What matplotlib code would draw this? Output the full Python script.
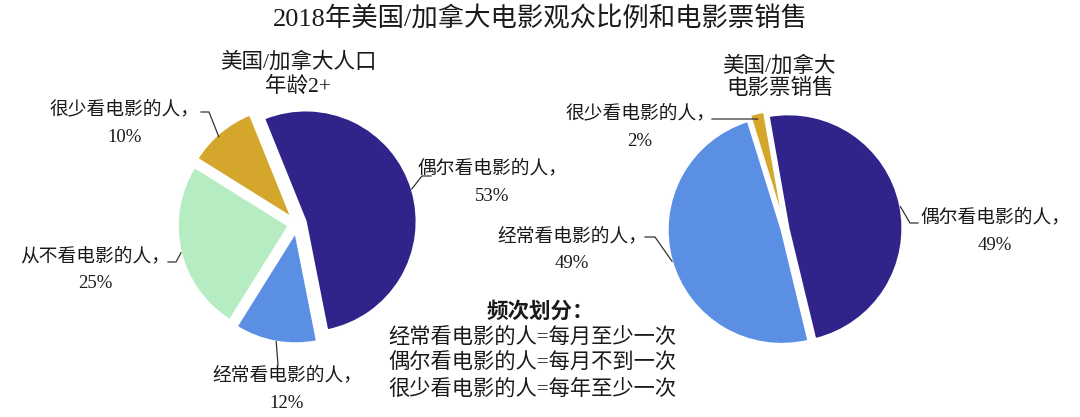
import numpy as np
import matplotlib
matplotlib.use("Agg")
import matplotlib.pyplot as plt

plt.rcParams['font.family'] = ['Liberation Serif', 'Noto Sans CJK SC', 'DejaVu Sans']

title = "2018年美国/加拿大电影观众比例和电影票销售"

# Left pie: population
pop_labels = ["偶尔看电影的人", "经常看电影的人", "从不看电影的人", "很少看电影的人"]
pop_values = [53, 12, 25, 10]
pop_colors = ["#30248a", "#5b8fe3", "#b6ecc2", "#d4a62b"]
pop_title = ["美国/加拿大人口", "年龄2+"]

# Right pie: ticket sales
sales_labels = ["偶尔看电影的人", "经常看电影的人", "很少看电影的人"]
sales_values = [49, 49, 2]
sales_colors = ["#30248a", "#5b8fe3", "#d4a62b"]
sales_title = ["美国/加拿大", "电影票销售"]

note_title = "频次划分："
note_lines = ["经常看电影的人=每月至少一次",
              "偶尔看电影的人=每月不到一次",
              "很少看电影的人=每年至少一次"]

W, H = 1080, 417
fig = plt.figure(figsize=(W / 100, H / 100), dpi=100)
ax = fig.add_axes([0, 0, 1, 1])

def Y(y):
    return H - y

txt_color = "#1a1a1a"
fs_lab = 13.5

def draw_pie(values, colors, cx, cy, R, start, explode_px):
    wedges, _ = ax.pie(values, colors=colors, startangle=start, counterclock=False,
                       center=(cx, Y(cy)), radius=R, explode=explode_px,
                       wedgeprops=dict(linewidth=1.5, edgecolor='white'), frame=True)
    return wedges

def edge_point(w, ang, frac=1.0):
    cx, cy = w.center
    r = w.r * frac
    a = np.deg2rad(ang)
    return cx + r * np.cos(a), cy + r * np.sin(a)

def leader(pts_img, end):
    xs = [p[0] for p in pts_img] + [end[0]]
    ys = [Y(p[1]) for p in pts_img] + [end[1]]
    ax.plot(xs, ys, color="#333333", lw=0.9)

# left pie
lw = draw_pie(pop_values, pop_colors, 297, 224, 111, 112, [9, 8.5, 8.5, 8.5])
# right pie
rw = draw_pie(sales_values, sales_colors, 785, 229, 114, 100, [3.5, 3.5, 5])

ax.set_xlim(0, W)
ax.set_ylim(0, H)
ax.set_aspect('equal')
ax.axis('off')

# Title and subtitles
ax.text(540, Y(19), title, ha='center', va='center', fontsize=19, color=txt_color)
ax.text(298, Y(62), pop_title[0], ha='center', va='center', fontsize=15.5, color=txt_color)
ax.text(298, Y(86), pop_title[1], ha='center', va='center', fontsize=15.5, color=txt_color)
ax.text(779, Y(66), sales_title[0], ha='center', va='center', fontsize=15.5, color=txt_color)
ax.text(780, Y(89), sales_title[1], ha='center', va='center', fontsize=15.5, color=txt_color)

def label(x, y, name, val):
    ax.text(x, Y(y), name + "，", ha='center', va='center', fontsize=fs_lab, color=txt_color)
    ax.text(x, Y(y + 28), f"{val}%", ha='center', va='center', fontsize=fs_lab, color=txt_color)

# left labels
label(492, 168, pop_labels[0], pop_values[0])
leader([(431, 176), (422, 176)], edge_point(lw[0], 17))
label(287, 375, pop_labels[1], pop_values[1])
leader([(278, 365)], edge_point(lw[1], -100))
label(95, 256, pop_labels[2], pop_values[2])
leader([(168, 262), (176, 262)], edge_point(lw[2], 194))
label(125, 109, pop_labels[3], pop_values[3])
leader([(201, 112), (209, 112)], edge_point(lw[3], 132, 0.98))

# right labels
label(995, 217, sales_labels[0], sales_values[0])
leader([(918, 223), (910, 223)], edge_point(rw[0], 11))
label(572, 236, sales_labels[1], sales_values[1])
leader([(645, 237), (655, 237)], edge_point(rw[1], 196))
label(640, 113, sales_labels[2], sales_values[2])
leader([(712, 119), (752, 119)], edge_point(rw[2], 104, 0.95))

# note
ax.text(540, Y(312), note_title, ha='center', va='center', fontsize=15.5,
        color=txt_color, fontweight='bold')
for i, line in enumerate(note_lines):
    ax.text(388, Y(338 + i * 26), line, ha='left', va='center', fontsize=15.3, color=txt_color)

fig.savefig("out.png", dpi=100, facecolor='white')
